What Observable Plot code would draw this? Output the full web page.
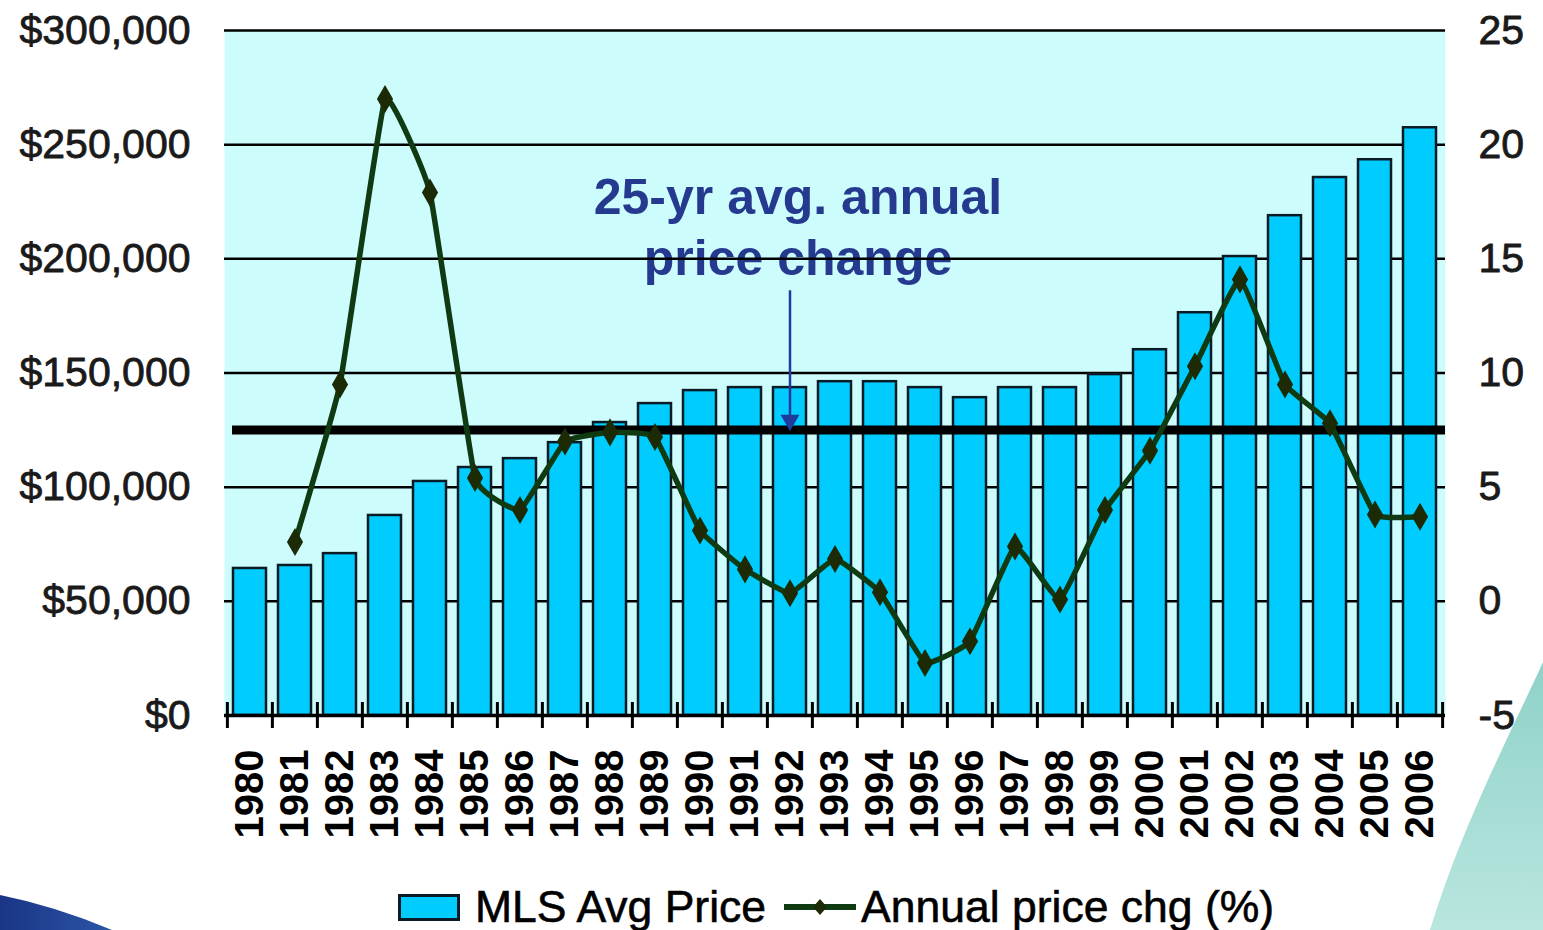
<!DOCTYPE html>
<html><head><meta charset="utf-8">
<script src="https://cdn.jsdelivr.net/npm/d3@7"></script>
<script src="https://cdn.jsdelivr.net/npm/@observablehq/plot@0.6"></script>
<style>
body{margin:0;background:#fff;width:1543px;height:930px;overflow:hidden;position:relative;font-family:"Liberation Sans",Arial,sans-serif;}
#deco{position:absolute;left:0;top:0}
#chart{position:absolute;left:0;top:0}
#legend{position:absolute;top:884px;left:398px;display:flex;align-items:center;font-size:44.5px;line-height:46px;color:#000;white-space:nowrap;-webkit-text-stroke:0.6px #000}
</style></head>
<body>
<svg id="deco" width="1543" height="930">
  <defs>
    <linearGradient id="teal" x1="0" y1="0" x2="0" y2="1">
      <stop offset="0" stop-color="#8fd2c8"/>
      <stop offset="1" stop-color="#b9e6df"/>
    </linearGradient>
    <linearGradient id="navy" x1="0" y1="0" x2="1" y2="0">
      <stop offset="0" stop-color="#1a3585"/>
      <stop offset="1" stop-color="#2c55a8"/>
    </linearGradient>
  </defs>
  <path d="M0,895 Q55,906 112,930 L0,930 Z" fill="url(#navy)"/>
  <path d="M1543,662 C1510,735 1462,825 1430,930 L1543,930 Z" fill="url(#teal)"/>
</svg>
<div id="chart"></div>
<div id="legend">
  <span style="display:inline-block;width:56px;height:21px;background:#00ccff;border:3px solid #0b1b26;margin-right:15px"></span>
  <span>MLS Avg Price</span>
  <svg width="72" height="20" style="margin:0 5px 0 18px"><line x1="0" y1="10" x2="72" y2="10" stroke="#0f3a12" stroke-width="6"/><path d="M36,2 L43,10 L36,18 L29,10 Z" fill="#1c2a05"/></svg>
  <span>Annual price chg (%)</span>
</div>
<script>
const years = [1980,1981,1982,1983,1984,1985,1986,1987,1988,1989,1990,1991,1992,1993,1994,1995,1996,1997,1998,1999,2000,2001,2002,2003,2004,2005,2006];
const prices = [64400,65700,70900,87600,102500,108600,112500,119500,128300,136600,142300,143600,143600,146200,146200,143600,139200,143600,143600,149300,160200,176400,201000,218900,235600,243400,257400];
const pctYears = years.slice(1);
const pctChg = [2.6,9.5,22.0,17.9,5.4,4.0,7.0,7.4,7.2,3.1,1.4,0.35,1.85,0.4,-2.7,-1.75,2.4,0.08,4.0,6.6,10.3,14.1,9.5,7.8,3.8,3.7];
const avgChg = 7.5;
const leftTicks = [0,50000,100000,150000,200000,250000,300000];
const rightTicks = [-5,0,5,10,15,20,25];
const annotation = "25-yr avg. annual\nprice change";

const toY = p => (p + 5) * 10000;          // right axis (%) mapped onto price axis
const bars = years.map((y, i) => ({year: String(y), price: prices[i]}));
const chg = pctYears.map((y, i) => ({year: String(y), v: toY(pctChg[i])}));
const yearStr = years.map(String);

const W = 1543, H = 860, mL = 224, mR = 98, mT = 30, mB = 145;
const step = (W - mL - mR) / years.length;

const chart = Plot.plot({
  width: W, height: H,
  marginLeft: mL, marginRight: mR, marginTop: mT, marginBottom: mB,
  style: {fontFamily: '"Liberation Sans", Arial, sans-serif', background: "transparent", overflow: "visible"},
  x: {type: "band", domain: yearStr, paddingInner: 0.27, paddingOuter: 0.135, axis: null},
  y: {domain: [0, 300000], axis: null},
  marks: [
    Plot.frame({fill: "#cdfcfd", stroke: "none"}),
    Plot.text([{year: "1992", y: 214800, t: annotation}], {x: "year", y: "y", text: "t", dx: 8, fontSize: 50, fontWeight: "bold", fill: "#25398f", lineHeight: 1.22}),
    Plot.ruleY(leftTicks.slice(1), {stroke: "#000", strokeWidth: 2.5}),
    Plot.barY(bars, {x: "year", y: "price", fill: "#00ccff", stroke: "#0b1b26", strokeWidth: 2.5}),
    Plot.ruleY([0], {stroke: "#000", strokeWidth: 3.5}),
    Plot.ruleX(yearStr, {x: d => d, dx: -step / 2, y1: -5700, y2: 5700, stroke: "#000", strokeWidth: 3}),
    Plot.ruleX(yearStr.slice(-1), {x: d => d, dx: step / 2, y1: -5700, y2: 5700, stroke: "#000", strokeWidth: 3}),
    Plot.ruleY([toY(avgChg)], {stroke: "#000", strokeWidth: 9, insetLeft: 8}),
    Plot.ruleX([{year: "1992"}], {x: "year", y1: () => 186000, y2: () => 130000, stroke: "#1e3a9a", strokeWidth: 2.5}),
    Plot.dot([{year: "1992"}], {x: "year", y: () => 129300, symbol: "triangle", rotate: 180, r: 7, fill: "#1e3a9a", stroke: "none"}),
    Plot.line(chg, {x: "year", y: "v", stroke: "#0f3a12", strokeWidth: 5.5, curve: d3.curveCardinal.tension(0.7)}),
    Plot.dot(chg, {x: "year", y: "v", symbol: "diamond", r: 8.5, fill: "#1c2a05", stroke: "none"}),
    Plot.axisY(leftTicks, {anchor: "left", tickSize: 0, tickPadding: 34, fontSize: 41, fill: "#1a1a1a", textStroke: "#1a1a1a", textStrokeWidth: 0.8, tickFormat: d => "$" + d3.format(",")(d)}),
    Plot.axisY(rightTicks.map(toY), {anchor: "right", tickSize: 0, tickPadding: 33, fontSize: 41, fill: "#1a1a1a", textStroke: "#1a1a1a", textStrokeWidth: 0.8, tickFormat: d => String(Math.round(d / 10000 - 5))}),
    Plot.axisX(yearStr, {anchor: "bottom", tickSize: 0, tickPadding: 34, tickRotate: -90, fontSize: 40, fontWeight: "bold", fill: "#000", label: null})
  ]
});
document.getElementById("chart").appendChild(chart);
</script>
</body></html>
